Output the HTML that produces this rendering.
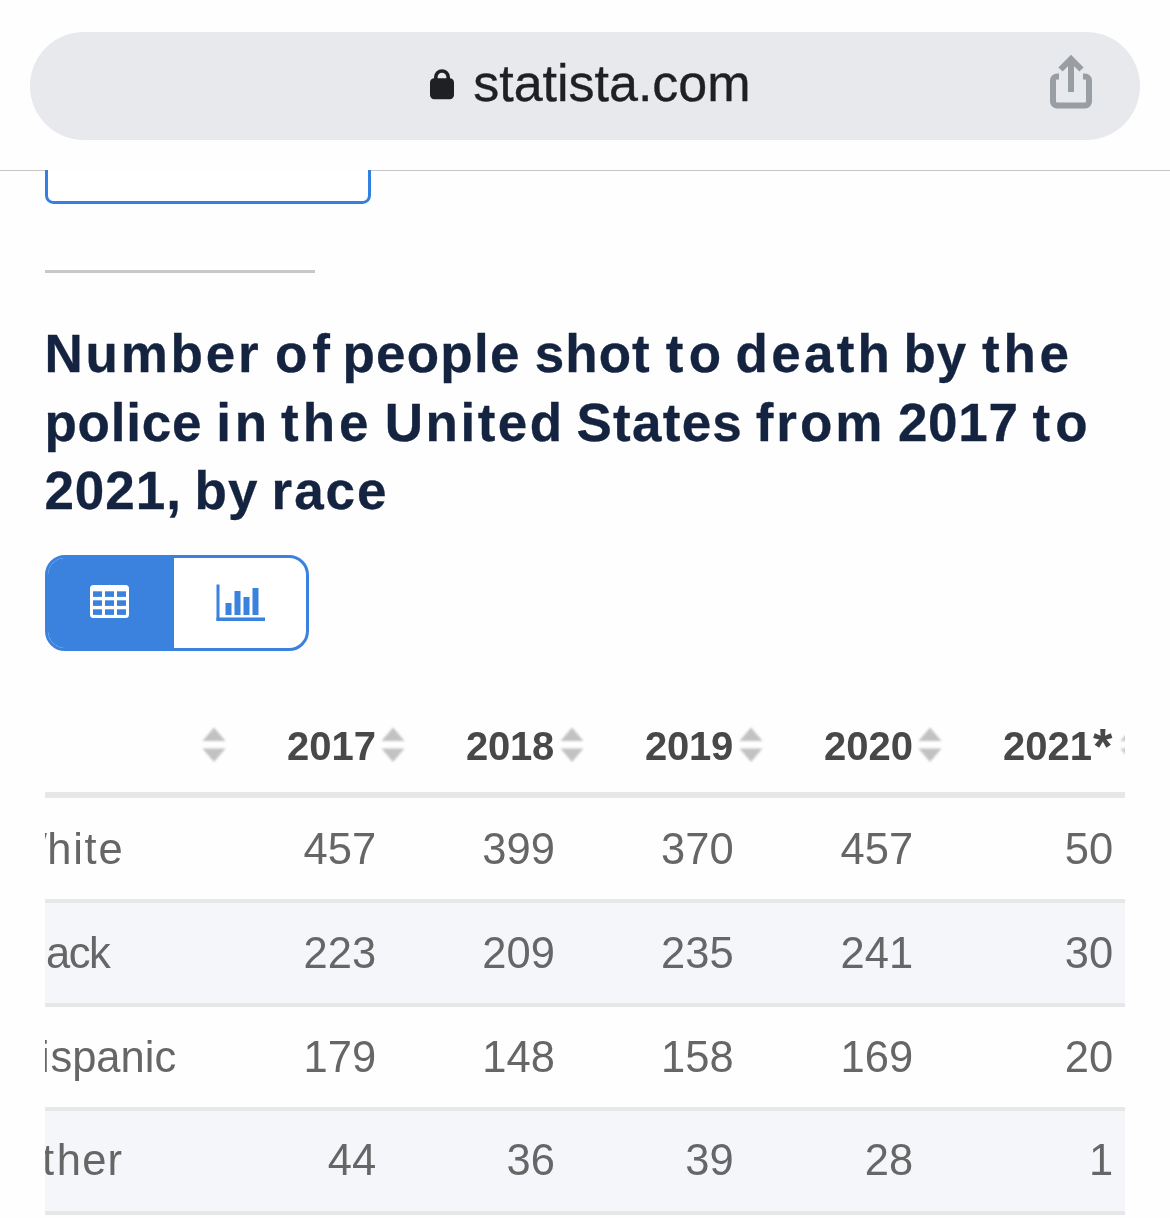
<!DOCTYPE html>
<html><head><meta charset="utf-8"><style>
html,body{margin:0;padding:0;}
body{width:1170px;height:1218px;position:relative;overflow:hidden;background:#fefefe;font-family:"Liberation Sans",sans-serif;}
#root{position:absolute;left:0;top:0;width:1170px;height:1218px;overflow:hidden;will-change:transform;}
.a{position:absolute;white-space:nowrap;}
#urlbar{left:30px;top:32px;width:1110px;height:108px;border-radius:54px;background:#e8e9ed;}
#url{left:473.2px;top:53px;font-size:52px;line-height:60px;color:#1f2024;-webkit-text-stroke:0.35px #1f2024;}
#sep{left:0;top:170px;width:1170px;height:1px;background:#c6c6c8;}
#clip{left:0;top:170px;width:1170px;height:60px;overflow:hidden;}
#bluebox{left:45px;top:-59px;width:320px;height:87px;border:3px solid #3380e0;border-radius:8.5px;background:#fff;}
#grayline{left:45px;top:270px;width:270px;height:3px;background:#c8c8c8;}
.t{font-weight:bold;font-size:53px;line-height:60px;color:#14233f;-webkit-text-stroke:0.3px #14233f;}
#toggle{left:45px;top:555px;width:258px;height:90px;border:3px solid #3b82de;border-radius:20px;background:#fff;overflow:hidden;}
#toggle .on{position:absolute;left:0;top:0;width:126px;height:90px;background:#3b82de;}
#tw{left:45px;top:690px;width:1080px;height:528px;overflow:hidden;}
.row{position:absolute;left:0;width:1080px;}
.bd{position:absolute;left:0;width:1080px;height:4px;background:#e7e7e7;}
.alt{background:#f5f6fa;}
.hd{font-weight:bold;font-size:40px;line-height:44px;color:#484848;top:34px;}
.c{font-size:43.5px;line-height:50px;color:#666;letter-spacing:0.1px;}
.l{font-size:43.5px;line-height:50px;color:#666;}
</style></head><body><div id="root">
<div id="urlbar" class="a"></div>
<svg class="a" style="left:428px;top:66px" width="28" height="36" viewBox="0 0 28 36"><path d="M7.8 14 V11.2 a6.2 6.2 0 0 1 12.400 0 V14" fill="none" stroke="#1f2024" stroke-width="3.6"/><rect x="2" y="12.200" width="24" height="21" rx="4.200" fill="#1f2024"/></svg>
<div id="url" class="a">statista.com</div>
<svg class="a" style="left:1046px;top:50px" width="50" height="62" viewBox="0 0 50 62"><g fill="none" stroke="#999da4" stroke-width="6"><path d="M25 42 V8"/><path d="M14.500 19.500 L25 9 L35.500 19.500"/><path d="M13 26.500 H11 a4 4 0 0 0 -4 4 V51.500 a4 4 0 0 0 4 4 H39 a4 4 0 0 0 4 -4 V30.500 a4 4 0 0 0 -4 -4 H37"/></g></svg>
<div id="sep" class="a"></div>
<div id="clip" class="a"><div id="bluebox" class="a"></div></div>
<div id="grayline" class="a"></div>
<div class="a t" style="left:44.5px;top:324px;letter-spacing:2.75px">Number</div>
<div class="a t" style="left:274.9px;top:324px;letter-spacing:5.0px">of</div>
<div class="a t" style="left:342.4px;top:324px;letter-spacing:1.25px">people</div>
<div class="a t" style="left:534.8px;top:324px;letter-spacing:1.0px">shot</div>
<div class="a t" style="left:665.8px;top:324px;letter-spacing:5.25px">to</div>
<div class="a t" style="left:735.6px;top:324px;letter-spacing:3.25px">death</div>
<div class="a t" style="left:903.5px;top:324px;letter-spacing:1.0px">by</div>
<div class="a t" style="left:982.1px;top:324px;letter-spacing:3.75px">the</div>
<div class="a t" style="left:44.5px;top:393px;letter-spacing:0.75px">police</div>
<div class="a t" style="left:216.2px;top:393px;letter-spacing:3.75px">in</div>
<div class="a t" style="left:281px;top:393px;letter-spacing:4.0px">the</div>
<div class="a t" style="left:384.8px;top:393px;letter-spacing:2.5px">United</div>
<div class="a t" style="left:576.5px;top:393px;letter-spacing:1.25px">States</div>
<div class="a t" style="left:755.7px;top:393px;letter-spacing:3.0px">from</div>
<div class="a t" style="left:897.9px;top:393px;letter-spacing:0.75px">2017</div>
<div class="a t" style="left:1032.6px;top:393px;letter-spacing:5.0px">to</div>
<div class="a t" style="left:44.4px;top:461px;letter-spacing:1.0px">2021,</div>
<div class="a t" style="left:194.5px;top:461px;letter-spacing:1.25px">by</div>
<div class="a t" style="left:271.5px;top:461px;letter-spacing:2.0px">race</div>
<div id="toggle" class="a"><div class="on"></div></div>
<svg class="a" style="left:90px;top:585px" width="39" height="33" viewBox="0 0 39 33"><rect x="0" y="0" width="39" height="33" rx="3.5" fill="#fff"/><g fill="#3b82de"><rect x="3" y="6.3" width="9" height="5.600"/><rect x="3" y="15.3" width="9" height="5.600"/><rect x="3" y="24.3" width="9" height="5.600"/><rect x="15" y="6.3" width="9" height="5.600"/><rect x="15" y="15.3" width="9" height="5.600"/><rect x="15" y="24.3" width="9" height="5.600"/><rect x="27" y="6.3" width="9" height="5.600"/><rect x="27" y="15.3" width="9" height="5.600"/><rect x="27" y="24.3" width="9" height="5.600"/></g></svg>
<svg class="a" style="left:215.700px;top:584.300px" width="50" height="38" viewBox="0 0 50 38"><g fill="#3b82de"><rect x="0.500" y="0.500" width="3" height="36.500"/><rect x="0.500" y="33.500" width="48.500" height="3.500"/><rect x="9.500" y="19" width="6" height="12"/><rect x="18.500" y="7" width="6" height="24"/><rect x="27.500" y="13" width="6" height="18"/><rect x="36.500" y="4" width="6" height="27"/></g></svg>
<div id="tw" class="a">
<div class="bd" style="top:102px;height:6px"></div>
<div class="bd" style="top:209px"></div>
<div class="row alt" style="top:213px;height:100px"></div>
<div class="bd" style="top:313px"></div>
<div class="bd" style="top:417px"></div>
<div class="row alt" style="top:421px;height:100px"></div>
<div class="bd" style="top:521px"></div>
<svg width="0" height="0" class="a"><defs><filter id="bl" x="-20%" y="-20%" width="140%" height="140%"><feGaussianBlur stdDeviation="0.9"/></filter></defs></svg>
<svg class="a" style="left:157.6px;top:37px;overflow:visible" width="22" height="36" viewBox="0 0 22 36"><g fill="#c2c2c2" filter="url(#bl)"><path d="M11 0.500 L22.500 14 H-0.500 Z"/><path d="M-0.500 21.500 H22.500 L11 35 Z"/></g></svg>
<svg class="a" style="left:336.5px;top:37px;overflow:visible" width="22" height="36" viewBox="0 0 22 36"><g fill="#c2c2c2" filter="url(#bl)"><path d="M11 0.500 L22.500 14 H-0.500 Z"/><path d="M-0.500 21.500 H22.500 L11 35 Z"/></g></svg>
<svg class="a" style="left:515.5px;top:37px;overflow:visible" width="22" height="36" viewBox="0 0 22 36"><g fill="#c2c2c2" filter="url(#bl)"><path d="M11 0.500 L22.500 14 H-0.500 Z"/><path d="M-0.500 21.500 H22.500 L11 35 Z"/></g></svg>
<svg class="a" style="left:694.5px;top:37px;overflow:visible" width="22" height="36" viewBox="0 0 22 36"><g fill="#c2c2c2" filter="url(#bl)"><path d="M11 0.500 L22.500 14 H-0.500 Z"/><path d="M-0.500 21.500 H22.500 L11 35 Z"/></g></svg>
<svg class="a" style="left:873.5px;top:37px;overflow:visible" width="22" height="36" viewBox="0 0 22 36"><g fill="#c2c2c2" filter="url(#bl)"><path d="M11 0.500 L22.500 14 H-0.500 Z"/><path d="M-0.500 21.500 H22.500 L11 35 Z"/></g></svg>
<svg class="a" style="left:1075.5px;top:37px;overflow:visible" width="22" height="36" viewBox="0 0 22 36"><g fill="#c2c2c2" filter="url(#bl)"><path d="M11 0.500 L22.500 14 H-0.500 Z"/><path d="M-0.500 21.500 H22.500 L11 35 Z"/></g></svg>
<div class="a hd" style="left:241.89999999999998px;letter-spacing:0px">2017</div>
<div class="a hd" style="left:420.9px;letter-spacing:-0.25px">2018</div>
<div class="a hd" style="left:599.9px;letter-spacing:-0.25px">2019</div>
<div class="a hd" style="left:778.9px;letter-spacing:0px">2020</div>
<div class="a hd" style="left:957.9px;letter-spacing:0px">2021</div>
<div class="a" id="ast" style="left:1048px;top:32px;font-weight:bold;font-size:50px;line-height:50px;color:#484848">*</div>
<div class="a c" style="right:748.6px;top:134px">457</div>
<div class="a c" style="right:569.9px;top:134px">399</div>
<div class="a c" style="right:391.1px;top:134px">370</div>
<div class="a c" style="right:211.6px;top:134px">457</div>
<div class="a c" style="right:11.6px;top:134px">50</div>
<div class="a l" style="left:-39px;top:134px;letter-spacing:0px">W</div>
<div class="a l" style="left:2.2px;top:134px;letter-spacing:1.75px">hite</div>
<div class="a c" style="right:748.6px;top:238px">223</div>
<div class="a c" style="right:569.9px;top:238px">209</div>
<div class="a c" style="right:391.1px;top:238px">235</div>
<div class="a c" style="right:211.6px;top:238px">241</div>
<div class="a c" style="right:11.6px;top:238px">30</div>
<div class="a l" style="left:1px;top:238px;letter-spacing:-1.5px">ack</div>
<div class="a c" style="right:748.6px;top:342px">179</div>
<div class="a c" style="right:569.9px;top:342px">148</div>
<div class="a c" style="right:391.1px;top:342px">158</div>
<div class="a c" style="right:211.6px;top:342px">169</div>
<div class="a c" style="right:11.6px;top:342px">20</div>
<div class="a l" style="left:-5px;top:342px;letter-spacing:0px">i</div>
<div class="a l" style="left:5.4px;top:342px;letter-spacing:0px">spanic</div>
<div class="a c" style="right:748.6px;top:445px">44</div>
<div class="a c" style="right:569.9px;top:445px">36</div>
<div class="a c" style="right:391.1px;top:445px">39</div>
<div class="a c" style="right:211.6px;top:445px">28</div>
<div class="a c" style="right:11.6px;top:445px">1</div>
<div class="a l" style="left:-3px;top:445px;letter-spacing:0px">t</div>
<div class="a l" style="left:11.7px;top:445px;letter-spacing:1.25px">her</div>
</div>
</div></body></html>
